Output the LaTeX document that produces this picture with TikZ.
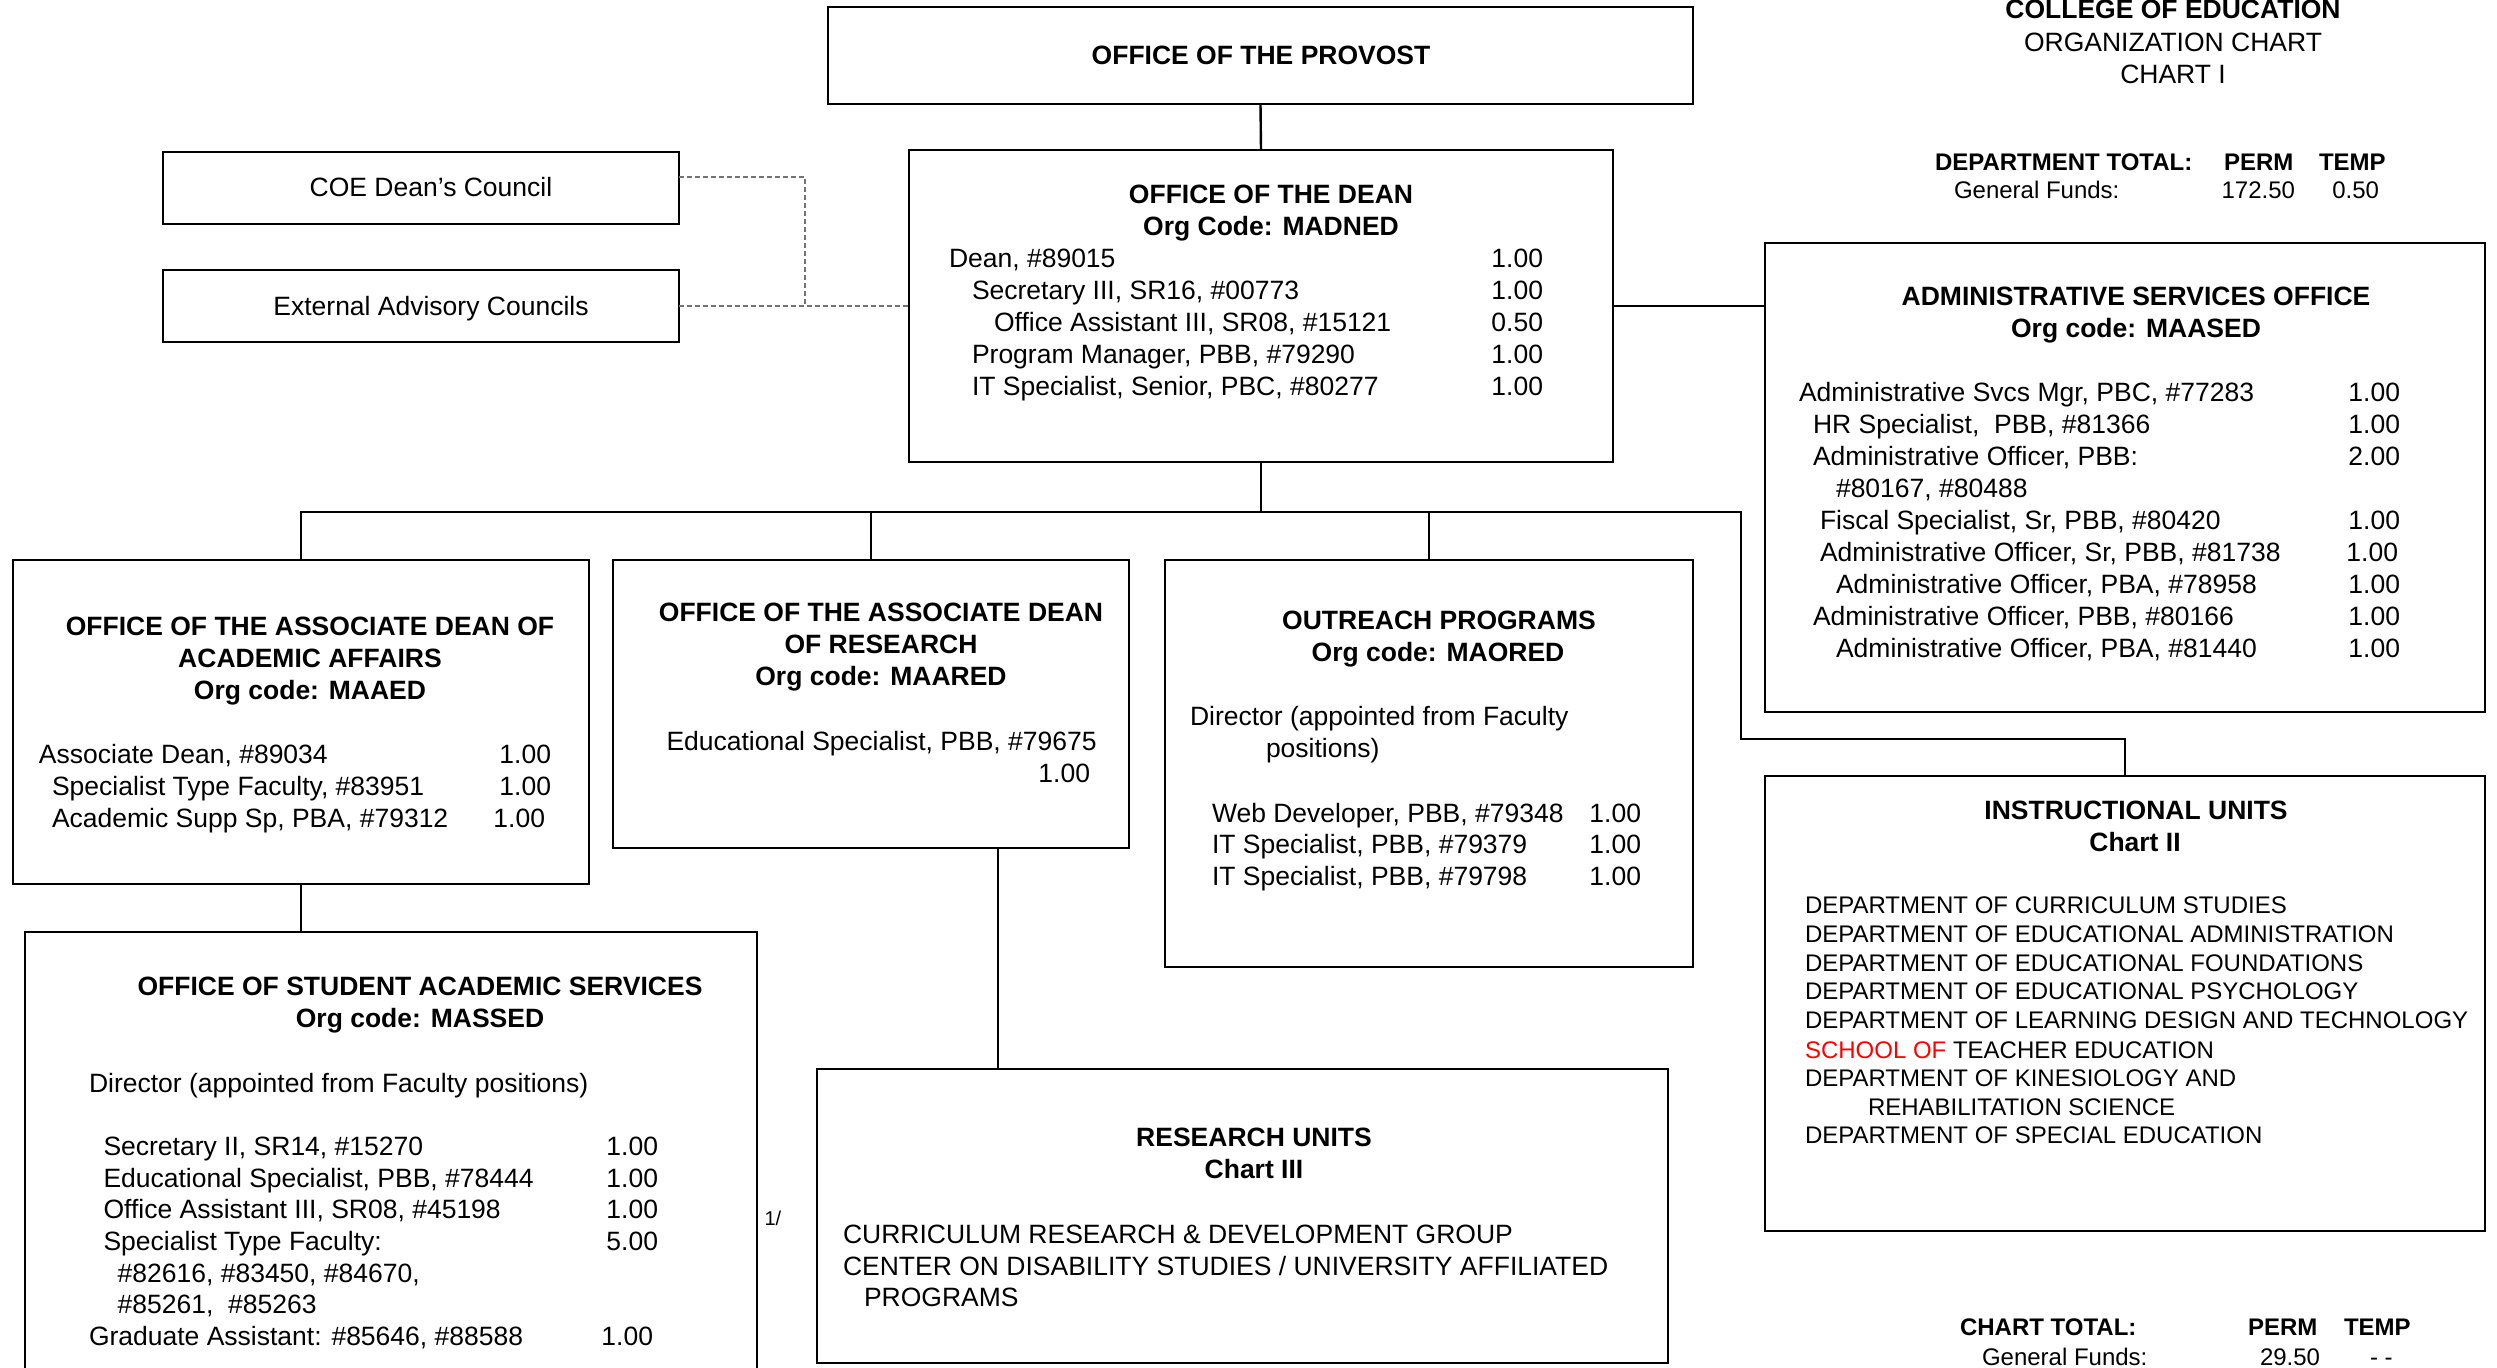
\documentclass[tikz,border=0pt]{standalone}
\usepackage{fontspec}
\setmainfont{Liberation Sans}
\usetikzlibrary{fit}
\begin{document}
\begin{tikzpicture}[x=0.5pt,y=-0.5pt,
  font=\fontsize{13.25}{16}\selectfont,
  box/.style={draw, line width=1.3pt, inner sep=0pt, outer sep=0pt},
  conn/.style={line width=1.2pt},
  dsh/.style={draw=black!55, line width=0.8pt, dash pattern=on 2.5pt off 1.5pt},
  L/.style={anchor=base west, inner sep=0pt, outer sep=0pt},
  R/.style={anchor=base east, inner sep=0pt, outer sep=0pt},
  C/.style={anchor=base, inner sep=0pt, outer sep=0pt},
  B/.style={font=\fontsize{13.25}{16}\selectfont\bfseries},
  sm/.style={font=\fontsize{12}{14}\selectfont},
  smb/.style={font=\fontsize{12}{14}\selectfont\bfseries}]
\useasboundingbox (0,0) rectangle (2497,1367);
\clip (0,0) rectangle (2497,1367);

% boxes
\node[box, fit={(828,7) (1693,104)}] (provost) {};
\node[box, fit={(909,150) (1613,462)}] (dean) {};
\node[box, fit={(163,152) (679,224)}] (coe) {};
\node[box, fit={(163,270) (679,342)}] (ext) {};
\node[box, fit={(1765,243) (2485,712)}] (admin) {};
\node[box, fit={(13,560) (589,884)}] (acad) {};
\node[box, fit={(613,560) (1129,848)}] (rdean) {};
\node[box, fit={(1165,560) (1693,967)}] (outr) {};
\node[box, fit={(1765,776) (2485,1231)}] (instr) {};
\node[box, fit={(25,932) (757,1420)}] (sas) {};
\node[box, fit={(817,1069) (1668,1363)}] (ru) {};

% connectors
\coordinate (busR) at (1741,512);
\coordinate (turn) at (1741,739);
\coordinate (rux) at (998,0);
\coordinate (dj) at (805,306);
\draw[conn] (provost.south) -- (dean.north);
\draw[conn] (dean.south) -- (dean.south |- busR);
\draw[conn] (acad.north) -- (acad.north |- busR) -- (busR) -- (turn) -| (instr.north);
\draw[conn] (rdean.north) -- (rdean.north |- busR);
\draw[conn] (outr.north) -- (outr.north |- busR);
\draw[conn] (dean.east) -- (dean.east -| admin.west);
\draw[conn] (acad.south) -- (acad.south |- sas.north);
\draw[conn] (rdean.south -| rux) -- (rux |- ru.north);
\draw[dsh] ([yshift=5.5pt]coe.east) -| (dj);
\draw[dsh] (ext.east) -- (dean.west |- ext.east);

% provost and councils
\node[C,B] (tprov) at (1261,64) {OFFICE OF THE PROVOST};
\node[C] (tcoe) at (431,196) {COE Dean’s Council};
\node[C] (text) at (431,315) {External Advisory Councils};

% dean
\node[C,B] (dn1) at (1271,203) {OFFICE OF THE DEAN};
\node[C,B] (dn2) at (1271,235) {Org Code: MADNED};
\node[L] (dl1) at (949,267) {Dean, \#89015};
\node[L] (dl2) at (972,299) {Secretary III, SR16, \#00773};
\node[L] (dl3) at (994,331) {Office Assistant III, SR08, \#15121};
\node[L] (dl4) at (972,363) {Program Manager, PBB, \#79290};
\node[L] (dl5) at (972,395) {IT Specialist, Senior, PBC, \#80277};
\node[R] (dr1) at (1543,267) {1.00};
\node[R] (dr2) at (1543,299) {1.00};
\node[R] (dr3) at (1543,331) {0.50};
\node[R] (dr4) at (1543,363) {1.00};
\node[R] (dr5) at (1543,395) {1.00};

% title top right
\node[C,B] (h1) at (2173,18.5) {COLLEGE OF EDUCATION};
\node[C] (h2) at (2173,51) {ORGANIZATION CHART};
\node[C] (h3) at (2173,83) {CHART I};
\node[L,smb] (dt1) at (1935,170) {DEPARTMENT TOTAL:};
\node[L,smb] (dt2) at (2224,170) {PERM};
\node[L,smb] (dt3) at (2319,170) {TEMP};
\node[L,sm] (dt4) at (1954,198) {General Funds:};
\node[R,sm] (dt5) at (2295,198) {172.50};
\node[R,sm] (dt6) at (2379,198) {0.50};

% admin
\node[C,B] (a1) at (2136,305) {ADMINISTRATIVE SERVICES OFFICE};
\node[C,B] (a2) at (2136,337.5) {Org code: MAASED};
\node[L] (al1) at (1799,401.5) {Administrative Svcs Mgr, PBC, \#77283};
\node[L] (al2) at (1813,433.5) {HR Specialist,\ \ PBB, \#81366};
\node[L] (al3) at (1813,465.5) {Administrative Officer, PBB:};
\node[L] (al4) at (1836,497.5) {\#80167, \#80488};
\node[L] (al5) at (1820,529.5) {Fiscal Specialist, Sr, PBB, \#80420};
\node[L] (al6) at (1820,561.5) {Administrative Officer, Sr, PBB, \#81738};
\node[L] (al7) at (1836,593.5) {Administrative Officer, PBA, \#78958};
\node[L] (al8) at (1813,625.5) {Administrative Officer, PBB, \#80166};
\node[L] (al9) at (1836,657.5) {Administrative Officer, PBA, \#81440};
\node[R] (ar1) at (2400,401.5) {1.00};
\node[R] (ar2) at (2400,433.5) {1.00};
\node[R] (ar3) at (2400,465.5) {2.00};
\node[R] (ar5) at (2400,529.5) {1.00};
\node[R] (ar6) at (2398,561.5) {1.00};
\node[R] (ar7) at (2400,593.5) {1.00};
\node[R] (ar8) at (2400,625.5) {1.00};
\node[R] (ar9) at (2400,657.5) {1.00};

% academic affairs
\node[C,B] (c1) at (310,635) {OFFICE OF THE ASSOCIATE DEAN OF};
\node[C,B] (c2) at (310,667) {ACADEMIC AFFAIRS};
\node[C,B] (c3) at (310,699) {Org code: MAAED};
\node[L] (cl1) at (39,763) {Associate Dean, \#89034};
\node[L] (cl2) at (52,795) {Specialist Type Faculty, \#83951};
\node[L] (cl3) at (52,827) {Academic Supp Sp, PBA, \#79312};
\node[R] (cr1) at (551,763) {1.00};
\node[R] (cr2) at (551,795) {1.00};
\node[R] (cr3) at (545,827) {1.00};

% research dean
\node[C,B] (r1) at (881,621) {OFFICE OF THE ASSOCIATE DEAN};
\node[C,B] (r2) at (881,653) {OF RESEARCH};
\node[C,B] (r3) at (881,685) {Org code: MAARED};
\node[L] (rl1) at (666.5,750) {Educational Specialist, PBB, \#79675};
\node[R] (rr1) at (1090,782) {1.00};

% outreach
\node[C,B] (o1) at (1439,629) {OUTREACH PROGRAMS};
\node[C,B] (o2) at (1438,661) {Org code: MAORED};
\node[L] (ol1) at (1190,725) {Director (appointed from Faculty};
\node[L] (ol2) at (1266,757) {positions)};
\node[L] (ol3) at (1212,822) {Web Developer, PBB, \#79348};
\node[L] (ol4) at (1212,853.5) {IT Specialist, PBB, \#79379};
\node[L] (ol5) at (1212,885) {IT Specialist, PBB, \#79798};
\node[R] (or3) at (1641,822) {1.00};
\node[R] (or4) at (1641,853.5) {1.00};
\node[R] (or5) at (1641,885) {1.00};

% student academic services
\node[C,B] (s1) at (420,995) {OFFICE OF STUDENT ACADEMIC SERVICES};
\node[C,B] (s2) at (420,1027) {Org code: MASSED};
\node[L] (sl0) at (89,1092) {Director (appointed from Faculty positions)};
\node[L] (sl1) at (103.5,1155) {Secretary II, SR14, \#15270};
\node[L] (sl2) at (103.5,1187) {Educational Specialist, PBB, \#78444};
\node[L] (sl3) at (103.5,1218.5) {Office Assistant III, SR08, \#45198};
\node[L] (sl4) at (103.5,1250) {Specialist Type Faculty:};
\node[L] (sl5) at (117.7,1282) {\#82616, \#83450, \#84670,};
\node[L] (sl6) at (117.7,1313.5) {\#85261,\ \ \#85263};
\node[L] (sl7) at (89,1345) {Graduate Assistant: \#85646, \#88588};
\node[R] (sr1) at (658,1155) {1.00};
\node[R] (sr2) at (658,1187) {1.00};
\node[R] (sr3) at (658,1218.5) {1.00};
\node[R] (sr4) at (658,1250) {5.00};
\node[R] (sr7) at (653,1345) {1.00};
\node[L,font=\fontsize{10}{12}\selectfont] (fn) at (764.6,1225) {1/};

% research units
\node[C,B] (u1) at (1254,1146.7) {RESEARCH UNITS};
\node[C,B] (u2) at (1254,1178.3) {Chart III};
\node[L] (ul1) at (843,1243.3) {CURRICULUM RESEARCH \& DEVELOPMENT GROUP};
\node[L] (ul2) at (843,1275) {CENTER ON DISABILITY STUDIES / UNIVERSITY AFFILIATED};
\node[L] (ul3) at (864,1306.7) {PROGRAMS};

% instructional units
\node[C,B] (i1) at (2136,819.6) {INSTRUCTIONAL UNITS};
\node[C,B] (i2) at (2135,851.8) {Chart II};
\node[L,sm] (il1) at (1805,913) {DEPARTMENT OF CURRICULUM STUDIES};
\node[L,sm] (il2) at (1805,942) {DEPARTMENT OF EDUCATIONAL ADMINISTRATION};
\node[L,sm] (il3) at (1805,971) {DEPARTMENT OF EDUCATIONAL FOUNDATIONS};
\node[L,sm] (il4) at (1805,999.5) {DEPARTMENT OF EDUCATIONAL PSYCHOLOGY};
\node[L,sm] (il5) at (1805,1028.5) {DEPARTMENT OF LEARNING DESIGN AND TECHNOLOGY};
\node[L,sm] (il6) at (1805,1058) {\textcolor{red}{SCHOOL OF} TEACHER EDUCATION};
\node[L,sm] (il7) at (1805,1086.5) {DEPARTMENT OF KINESIOLOGY AND};
\node[L,sm] (il8) at (1868,1115) {REHABILITATION SCIENCE};
\node[L,sm] (il9) at (1805,1143.5) {DEPARTMENT OF SPECIAL EDUCATION};

% chart total
\node[L,smb] (ct1) at (1960,1335) {CHART TOTAL:};
\node[L,smb] (ct2) at (2248,1335) {PERM};
\node[L,smb] (ct3) at (2344,1335) {TEMP};
\node[L,sm] (ct4) at (1982,1365) {General Funds:};
\node[L,sm] (ct5) at (2260,1365) {29.50};
\node[L,sm] (ct6) at (2370,1365) {- -};
\end{tikzpicture}
\end{document}
